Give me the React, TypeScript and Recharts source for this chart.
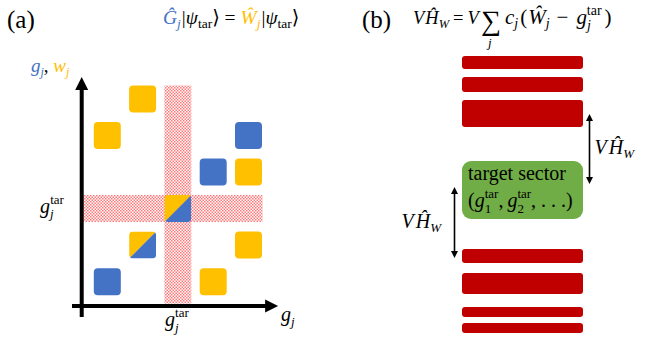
import React from 'react'
import {
  ScatterChart,
  Scatter,
  ComposedChart,
  Bar,
  XAxis,
  YAxis,
  ReferenceArea,
  ReferenceLine,
} from 'recharts'

const BLUE = '#4472C4'
const YELLOW = '#FFC000'
const RED = '#C00000'
const GREEN = '#70AD47'
const SERIF = '"Liberation Serif", "DejaVu Serif", serif'

// panel (a): squares on the (g_j, w_j) plane, grid units
const yellowSquares = [
  { g: 1, w: 5 },
  { g: 0, w: 4 },
  { g: 4, w: 3 },
  { g: 4, w: 1 },
  { g: 3, w: 0 },
]
const blueSquares = [
  { g: 4, w: 4 },
  { g: 3, w: 3 },
  { g: 0, w: 0 },
]
const splitSquares = [
  { g: 2, w: 2 },
  { g: 1, w: 1 },
]
const gTarget = 2
const wTarget = 2
const gBand = [-0.7, 4.4]
const wBand = [-0.6, 5.37]
const axisOrigin = { g: -0.725, w: -0.666 }
const gAxisExtent = [-1, 4.84]
const wAxisExtent = [-0.97, 5.6]

// panel (b): energy levels (arbitrary units)
const redLevels = [
  [27.1, 28.4],
  [24.8, 26.3],
  [21.3, 24.0],
  [7.7, 9.1],
  [4.6, 6.7],
  [2.3, 3.3],
  [0.7, 1.7],
]
const targetLevel = [12.1, 17.9]
const upperGap = [15.6, 22.6]
const lowerGap = [8.2, 15.3]

const levelRow: Record<string, any> = { name: 'levels', target: targetLevel }
redLevels.forEach((lv, i) => {
  levelRow[`r${i}`] = lv
})
const levelData = [levelRow]

const SQ = 27
const BAR_W = 121

function Square(props: any) {
  const { cx, cy, fill } = props
  return <rect x={cx - SQ / 2} y={cy - SQ / 2} width={SQ} height={SQ} rx={4} fill={fill} />
}

function SplitSquare(props: any) {
  const { cx, cy } = props
  const x0 = cx - SQ / 2
  const y0 = cy - SQ / 2
  const id = `split-${Math.round(cx)}-${Math.round(cy)}`
  return (
    <g>
      <defs>
        <clipPath id={id}>
          <rect x={x0} y={y0} width={SQ} height={SQ} rx={4} />
        </clipPath>
      </defs>
      <g clipPath={`url(#${id})`}>
        <polygon points={`${x0},${y0} ${x0 + SQ},${y0} ${x0},${y0 + SQ}`} fill={YELLOW} />
        <polygon points={`${x0 + SQ},${y0} ${x0 + SQ},${y0 + SQ} ${x0},${y0 + SQ}`} fill={BLUE} />
      </g>
    </g>
  )
}

function AxisArrow(props: any) {
  const { x1, y1, x2, y2 } = props
  const len = Math.hypot(x2 - x1, y2 - y1)
  const ux = (x2 - x1) / len
  const uy = (y2 - y1) / len
  const head = 13
  const half = 6.5
  const bx = x2 - ux * head
  const by = y2 - uy * head
  return (
    <g>
      <line x1={x1} y1={y1} x2={bx + ux} y2={by + uy} stroke="#000" strokeWidth={4} />
      <polygon
        points={`${x2},${y2} ${bx - uy * half},${by + ux * half} ${bx + uy * half},${by - ux * half}`}
        fill="#000"
      />
    </g>
  )
}

// g_j^tar style symbol, sub and sup stacked
function Gtar({ sub, subW, size, after = '', dx = 0, afterDx = 0 }: any) {
  const s = Math.round(size * 0.66)
  return (
    <>
      <tspan fontStyle="italic" dx={dx}>
        g
      </tspan>
      <tspan fontSize={s} fontStyle={/[0-9]/.test(sub) ? 'normal' : 'italic'} dy={size * 0.28}>
        {sub}
      </tspan>
      <tspan fontSize={s} dx={-subW} dy={-size * 0.72}>
        tar
      </tspan>
      <tspan dy={size * 0.44} dx={afterDx}>
        {after}
      </tspan>
    </>
  )
}

function XTick(props: any) {
  const { x, y } = props
  return (
    <text x={x - 13} y={y} fontFamily={SERIF} fontSize={20}>
      <Gtar sub="j" subW={3.5} size={20} />
    </text>
  )
}

function YTick(props: any) {
  const { x, y } = props
  return (
    <text x={x - 24} y={y + 4} fontFamily={SERIF} fontSize={20}>
      <Gtar sub="j" subW={3.5} size={20} />
    </text>
  )
}

function VHw({ x, y }: any) {
  return (
    <text x={x} y={y} fontFamily={SERIF} fontSize={20} fontStyle="italic">
      <tspan>V</tspan>
      <tspan dx={2}>Ĥ</tspan>
      <tspan fontSize={13} dy={4}>W</tspan>
    </text>
  )
}

// double arrow beside the level stack; offset is measured from the bar centre
function GapArrow(offset: number, labelDx: number) {
  return (props: any) => {
    const { x1, y1, y2 } = props
    const x = x1 + offset
    const top = Math.min(y1, y2)
    const bot = Math.max(y1, y2)
    const head = 7
    const half = 3.5
    const mid = (top + bot) / 2
    return (
      <g>
        <line x1={x} y1={top + head} x2={x} y2={bot - head} stroke="#000" strokeWidth={1.6} />
        <polygon points={`${x},${top} ${x - half},${top + head} ${x + half},${top + head}`} fill="#000" />
        <polygon points={`${x},${bot} ${x - half},${bot - head} ${x + half},${bot - head}`} fill="#000" />
        <VHw x={x + labelDx} y={mid + 5} />
      </g>
    )
  }
}

function TargetShape(props: any) {
  const { x, y, width, height } = props
  return (
    <g>
      <rect x={x} y={y} width={width} height={height} rx={9} fill={GREEN} />
      <text x={x + 6} y={y + 19} fontFamily={SERIF} fontSize={20}>
        target sector
      </text>
      <text x={x + 6} y={y + 46} fontFamily={SERIF} fontSize={20}>
        <tspan>(</tspan>
        <Gtar sub="1" subW={6.5} size={20} after="," />
        <Gtar sub="2" subW={6.5} size={20} after=", . . .)" dx={4} />
      </text>
    </g>
  )
}

function PanelA() {
  return (
    <ScatterChart width={300} height={340} margin={{ top: 62.4, right: 16.2, bottom: 0, left: 0 }}>
      <XAxis
        type="number"
        dataKey="g"
        domain={[-1, 5]}
        ticks={[gTarget]}
        tick={<XTick />}
        axisLine={false}
        tickLine={false}
        height={21.8}
      />
      <YAxis
        type="number"
        dataKey="w"
        domain={[-1, 6]}
        ticks={[wTarget]}
        tick={<YTick />}
        axisLine={false}
        tickLine={false}
        width={72}
      />
      <ReferenceArea
        x1={gTarget - 0.38}
        x2={gTarget + 0.38}
        y1={wBand[0]}
        y2={wBand[1]}
        fill="url(#redDots)"
        fillOpacity={1}
        stroke="none"
      />
      <ReferenceArea
        x1={gBand[0]}
        x2={gBand[1]}
        y1={wTarget - 0.37}
        y2={wTarget + 0.37}
        fill="url(#redDots)"
        fillOpacity={1}
        stroke="none"
      />
      <Scatter data={yellowSquares} isAnimationActive={false} shape={(p: any) => <Square {...p} fill={YELLOW} />} />
      <Scatter data={blueSquares} isAnimationActive={false} shape={(p: any) => <Square {...p} fill={BLUE} />} />
      <Scatter data={splitSquares} isAnimationActive={false} shape={(p: any) => <SplitSquare {...p} />} />
      <ReferenceLine
        segment={[
          { x: gAxisExtent[0], y: axisOrigin.w },
          { x: gAxisExtent[1], y: axisOrigin.w },
        ]}
        ifOverflow="visible"
        shape={AxisArrow}
      />
      <ReferenceLine
        segment={[
          { x: axisOrigin.g, y: wAxisExtent[0] },
          { x: axisOrigin.g, y: wAxisExtent[1] },
        ]}
        ifOverflow="visible"
        shape={AxisArrow}
      />
    </ScatterChart>
  )
}

function PanelB() {
  return (
    <ComposedChart
      width={323}
      height={340}
      data={levelData}
      barGap={-BAR_W}
      margin={{ top: 40, right: 1, bottom: 0, left: 62 }}
    >
      <XAxis dataKey="name" type="category" hide />
      <YAxis type="number" domain={[0, 30]} hide />
      {redLevels.map((_, i) => (
        <Bar key={i} dataKey={`r${i}`} fill={RED} radius={3} barSize={BAR_W} isAnimationActive={false} />
      ))}
      <Bar dataKey="target" barSize={BAR_W} shape={<TargetShape />} isAnimationActive={false} />
      <ReferenceLine
        segment={[
          { x: 'levels', y: upperGap[0] },
          { x: 'levels', y: upperGap[1] },
        ]}
        ifOverflow="visible"
        shape={GapArrow(BAR_W / 2 + 7, 5)}
      />
      <ReferenceLine
        segment={[
          { x: 'levels', y: lowerGap[0] },
          { x: 'levels', y: lowerGap[1] },
        ]}
        ifOverflow="visible"
        shape={GapArrow(-BAR_W / 2 - 7, -53)}
      />
    </ComposedChart>
  )
}

function Headings() {
  return (
    <svg width={653} height={340} style={{ position: 'absolute', left: 0, top: 0, pointerEvents: 'none' }}>
      <text x={7} y={28} fontFamily={SERIF} fontSize={25}>
        (a)
      </text>
      <text x={362} y={28} fontFamily={SERIF} fontSize={25}>
        (b)
      </text>
      {/* Ĝ_j|ψ_tar⟩ = Ŵ_j|ψ_tar⟩ */}
      <text x={163} y={24} fontFamily={SERIF} fontSize={19.5}>
        <tspan fill={BLUE} fontStyle="italic">Ĝ</tspan>
        <tspan fill={BLUE} fontStyle="italic" fontSize={13.5} dy={4}>j</tspan>
        <tspan dy={-4} dx={1}>|</tspan>
        <tspan fontStyle="italic">ψ</tspan>
        <tspan fontSize={13.5} dy={4}>tar</tspan>
        <tspan dy={-4}>⟩ = </tspan>
        <tspan fill={YELLOW} fontStyle="italic">Ŵ</tspan>
        <tspan fill={YELLOW} fontStyle="italic" fontSize={13.5} dy={4}>j</tspan>
        <tspan dy={-4} dx={1}>|</tspan>
        <tspan fontStyle="italic">ψ</tspan>
        <tspan fontSize={13.5} dy={4}>tar</tspan>
        <tspan dy={-4}>⟩</tspan>
      </text>
      {/* VĤ_W = V Σ_j c_j(Ŵ_j − g_j^tar) */}
      <text x={413} y={24} fontFamily={SERIF} fontSize={18.5}>
        <tspan fontStyle="italic">V</tspan>
        <tspan fontStyle="italic" dx={1}>Ĥ</tspan>
        <tspan fontStyle="italic" fontSize={12.5} dy={4}>W</tspan>
        <tspan dy={-4} dx={4}>=</tspan>
        <tspan fontStyle="italic" dx={4}>V</tspan>
      </text>
      <text x={481} y={30} fontFamily={SERIF} fontSize={28}>
        ∑
      </text>
      <text x={488} y={47} fontFamily={SERIF} fontSize={13} fontStyle="italic">
        j
      </text>
      <text x={505} y={24} fontFamily={SERIF} fontSize={21}>
        <tspan fontStyle="italic">c</tspan>
        <tspan fontStyle="italic" fontSize={14} dy={4}>j</tspan>
        <tspan dy={-4} dx={2}>(</tspan>
        <tspan fontStyle="italic" dx={1}>Ŵ</tspan>
        <tspan fontStyle="italic" fontSize={14} dy={4}>j</tspan>
        <tspan dy={-4} dx={7}>−</tspan>
        <Gtar sub="j" subW={4} size={21} after=")" dx={8} afterDx={3} />
      </text>
      {/* axis names */}
      <text x={31} y={72} fontFamily={SERIF} fontSize={19} fontStyle="italic">
        <tspan fill={BLUE}>g</tspan>
        <tspan fill={BLUE} fontSize={12} dy={4}>j</tspan>
        <tspan fontStyle="normal" dy={-4}>, </tspan>
        <tspan fill={YELLOW}>w</tspan>
        <tspan fill={YELLOW} fontSize={12} dy={4}>j</tspan>
      </text>
      <text x={281} y={321} fontFamily={SERIF} fontSize={20} fontStyle="italic">
        <tspan>g</tspan>
        <tspan fontSize={13} dy={5}>j</tspan>
      </text>
    </svg>
  )
}

export default function App() {
  return (
    <div style={{ position: 'fixed', left: 0, top: 0, width: 653, height: 340, background: '#fff' }}>
      <svg width={0} height={0} style={{ position: 'absolute' }}>
        <defs>
          <pattern id="redDots" width={3} height={3} patternUnits="userSpaceOnUse">
            <rect width={1.5} height={1.5} fill="#ff7878" />
            <rect x={1.5} y={1.5} width={1.5} height={1.5} fill="#ff7878" />
          </pattern>
        </defs>
      </svg>
      <div style={{ position: 'absolute', left: 0, top: 0 }}>
        <PanelA />
      </div>
      <div style={{ position: 'absolute', left: 330, top: 0 }}>
        <PanelB />
      </div>
      <Headings />
    </div>
  )
}
